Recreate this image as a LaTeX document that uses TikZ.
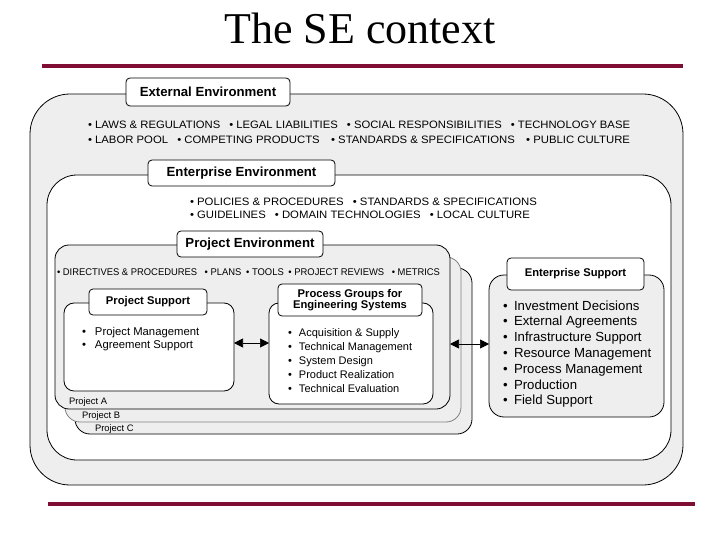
\documentclass[tikz,border=0pt]{standalone}
\usepackage{fontspec}
\setmainfont{Liberation Sans}
\newfontfamily\titlefont{Liberation Serif}
\usetikzlibrary{arrows.meta}
\definecolor{maroon}{RGB}{128,14,52}
\definecolor{panel}{RGB}{238,238,238}
\tikzset{
  frame/.style={draw=black, line width=0.8pt, inner sep=0pt, outer sep=0pt, anchor=north west},
  tab/.style={draw=black, fill=white, line width=0.8pt, rounded corners=4pt, inner sep=0pt, outer sep=0pt,
    font=\bfseries\fontsize{13.2}{14}\selectfont, align=center},
  smalltab/.style={tab, font=\bfseries\fontsize{11.2}{13}\selectfont},
  item/.style={anchor=base west, inner sep=0pt, outer sep=0pt},
  envline/.style={anchor=west, inner sep=0pt, outer sep=0pt},
  rulebar/.style={draw=maroon, line width=4pt},
  link/.style={line width=0.7pt, {Triangle[length=9pt,width=9pt]}-{Triangle[length=9pt,width=9pt]}},
}
\begin{document}
\begin{tikzpicture}[x=1pt,y=-1pt]
\useasboundingbox (0,0) rectangle (720,540);
% title
\node[anchor=base, inner sep=0pt, font=\titlefont\fontsize{44}{48}\selectfont] (title) at (360,44) {The SE context};
\draw[rulebar] (42,66) -- (683,66);
\draw[rulebar] (48,504) -- (695,504);
% external environment
\node[frame, fill=panel, rounded corners=40pt, minimum width=653pt, minimum height=391pt] (ext) at (30,94) {};
\node[tab, minimum width=164pt, minimum height=28pt] (exttab) at (208,92) {External Environment};
\node[envline] (extl1) at (88,125) {\resizebox{542pt}{7.5pt}{• LAWS \& REGULATIONS\hspace{0.8em}• LEGAL LIABILITIES\hspace{0.8em}• SOCIAL RESPONSIBILITIES\hspace{0.8em}• TECHNOLOGY BASE}};
\node[envline] (extl2) at (88,140) {\resizebox{542pt}{7.5pt}{• LABOR POOL\hspace{0.8em}• COMPETING PRODUCTS\hspace{1em}• STANDARDS \& SPECIFICATIONS\hspace{1em}• PUBLIC CULTURE}};
% enterprise environment
\node[frame, fill=white, rounded corners=30pt, minimum width=624pt, minimum height=285pt] (ent) at (47,175) {};
\node[tab, minimum width=187pt, minimum height=26pt] (enttab) at (241.5,173) {Enterprise Environment};
\node[envline] (entl1) at (190,202) {\resizebox{347pt}{7.5pt}{• POLICIES \& PROCEDURES\hspace{0.8em}• STANDARDS \& SPECIFICATIONS}};
\node[envline] (entl2) at (190,215) {\resizebox{340pt}{7.5pt}{• GUIDELINES\hspace{0.8em}• DOMAIN TECHNOLOGIES\hspace{0.8em}• LOCAL CULTURE}};
% project environment stack
\node[frame, fill=panel, rounded corners=15pt, minimum width=397pt, minimum height=166pt] (pc) at (75,268) {};
\node[frame, draw=gray, fill=panel, rounded corners=15pt, minimum width=396pt, minimum height=165pt] (pb) at (65,257) {};
\node[frame, fill=panel, rounded corners=14pt, minimum width=395pt, minimum height=164pt] (pa) at (55,245) {};
\node[tab, minimum width=146pt, minimum height=26pt] (ptab) at (250,244) {Project Environment};
\node[envline] (pl) at (57,272) {\resizebox{383pt}{6.8pt}{• DIRECTIVES \& PROCEDURES\hspace{0.8em}• PLANS\hspace{0.5em}• TOOLS\hspace{0.5em}• PROJECT REVIEWS\hspace{0.8em}• METRICS}};
\node[item, font=\fontsize{9.4}{10}\selectfont] (la) at (69,404.5) {Project A};
\node[item, font=\fontsize{9.4}{10}\selectfont] (lb) at (82,418) {Project B};
\node[item, font=\fontsize{9.4}{10}\selectfont] (lc) at (95,431) {Project C};
% project support
\node[frame, fill=white, rounded corners=10pt, minimum width=170pt, minimum height=88pt] (ps) at (64,303) {};
\node[smalltab, minimum width=118pt, minimum height=26pt] (pstab) at (148,302) {Project Support};
\node[item, font=\fontsize{11.3}{13}\selectfont] (ps1) at (82,335) {\makebox[13pt][l]{•}Project Management};
\node[item, font=\fontsize{11.3}{13}\selectfont] (ps2) at (82,348.5) {\makebox[13pt][l]{•}Agreement Support};
% process groups
\node[frame, fill=white, rounded corners=10pt, minimum width=164pt, minimum height=101pt] (pg) at (269,303) {};
\node[smalltab, minimum width=144pt, minimum height=32pt] (pgtab) at (350,300) {Process Groups for\\[-1.5pt]Engineering Systems};
\foreach \t [count=\i from 0] in {Acquisition \& Supply, Technical Management, System Design, Product Realization, Technical Evaluation}
  \node[item, font=\fontsize{11}{13}\selectfont] (pg\i) at (288,{336+14.1*\i}) {\makebox[11pt][l]{•}\t};
% enterprise support
\node[frame, fill=panel, rounded corners=15pt, minimum width=175pt, minimum height=142pt] (es) at (489,275) {};
\node[smalltab, minimum width=137pt, minimum height=32pt] (estab) at (575.5,274) {Enterprise Support};
\foreach \t [count=\i from 0] in {Investment Decisions, External Agreements, Infrastructure Support, Resource Management, Process Management, Production, Field Support}
  \node[item, font=\fontsize{13.2}{15}\selectfont] (es\i) at (503,{310+15.8*\i}) {\makebox[11pt][l]{•}\t};
% connectors
\coordinate (ya) at (0,343);
\coordinate (yb) at (0,344);
\draw[link] (ps.east |- ya) -- (pg.west |- ya);
\draw[link] (pa.east |- yb) -- (es.west |- yb);
\end{tikzpicture}
\end{document}
